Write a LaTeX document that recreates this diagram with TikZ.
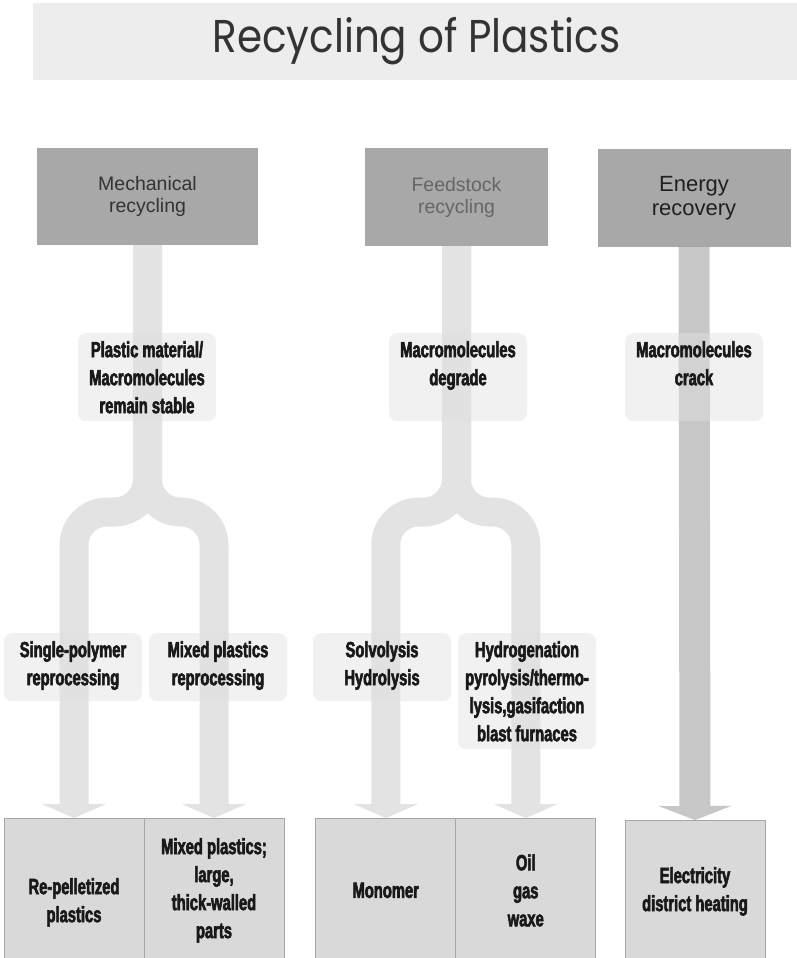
\documentclass[tikz,border=0pt]{standalone}
\usepackage{fontspec}
\usetikzlibrary{arrows.meta}
\setmainfont{Liberation Sans}
\newfontfamily\titlefont[FakeStretch=0.88]{Poppins}
\newfontfamily\labelfont[FakeStretch=0.67,BoldFeatures={FakeBold=2.5}]{Liberation Sans}

\begin{document}
\begin{tikzpicture}[x=1pt,y=-1pt,
  headbox/.style={rectangle,fill=black!34,align=center,font=\fontsize{19.5}{22}\selectfont},
  lbl/.style={rectangle,rounded corners=8pt,fill=black!12,fill opacity=0.45,text opacity=1,align=center,inner xsep=2pt,inner ysep=8pt,minimum width=138pt,anchor=north,text=black!90,font=\labelfont\bfseries\fontsize{22}{28}\selectfont},
  outbox/.style={rectangle,fill=black!15,draw=black!35,line width=0.8pt,align=center,minimum width=140pt,minimum height=144pt,anchor=north,text=black!90,font=\labelfont\bfseries\fontsize{22}{28}\selectfont},
  fork/.style={draw=black!11,line width=29pt,rounded corners=33pt,-{Triangle[width=64pt,length=14pt,line width'=0.01pt]}}]
  \useasboundingbox (0,0) rectangle (797,958);
  \node [rectangle,fill=black!7,minimum width=767pt,minimum height=77pt,text=black!80,font=\titlefont\fontsize{46}{50}\selectfont] (t) at (416.5,41.5) {Recycling of Plastics};
  \node [headbox,minimum width=221pt,minimum height=97pt,text=black!80] (m) at (147.5,196.5) {Mechanical\\recycling};
  \node [headbox,minimum width=183pt,minimum height=98pt,text=black!60] (f) at (456.5,197) {Feedstock\\recycling};
  \node [headbox,minimum width=193pt,minimum height=98pt,text=black!88,font=\fontsize{22}{24}\selectfont] (e) at (694,198) {Energy\\recovery};
  \node [outbox,text height=68pt] (r1) at (74,818) {Re-pelletized\\plastics};
  \node [outbox] (r2) at (214,818) {Mixed plastics;\\large,\\thick-walled\\parts};
  \node [outbox] (o1) at (385.75,818) {Monomer};
  \node [outbox] (o2) at (525.75,818) {Oil\\gas\\waxe};
  \node [outbox,minimum height=142pt] (o3) at (695,820) {Electricity\\district heating};
  \draw [fork] (m.south) -- (m.south |- 0,512) -| (r1.north);
  \draw [fork] (m.south) -- (m.south |- 0,512) -| (r2.north);
  \draw [fork] (f.south) -- (f.south |- 0,512) -| (o1.north);
  \draw [fork] (f.south) -- (f.south |- 0,512) -| (o2.north);
  \draw [draw=black!22,line width=31pt,-{Triangle[width=72pt,length=14pt,line width'=0.01pt]}] (e.south) -- (o3.north);
  \node [lbl,text height=72pt,text depth=0pt] (ma) at (147,333) {Plastic material/\\Macromolecules\\remain stable};
  \node [lbl,text height=44pt,text depth=28pt] (fa) at (458,333) {Macromolecules\\degrade};
  \node [lbl,text height=44pt,text depth=28pt] (ea) at (694,333) {Macromolecules\\crack};
  \node [lbl,text height=44pt,text depth=8pt] (m1) at (73,633) {Single-polymer\\reprocessing};
  \node [lbl,text height=44pt,text depth=8pt] (m2) at (218,633) {Mixed plastics\\reprocessing};
  \node [lbl,text height=44pt,text depth=8pt] (f1) at (382,633) {Solvolysis\\Hydrolysis};
  \node [lbl,text height=100pt,text depth=0pt] (f2) at (527,633) {Hydrogenation\\pyrolysis/thermo-\\lysis,gasifaction\\blast furnaces};
\end{tikzpicture}
\end{document}
